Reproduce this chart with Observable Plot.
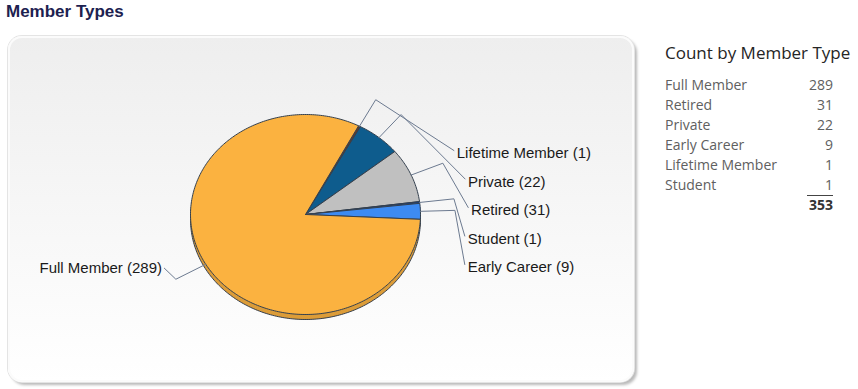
<!DOCTYPE html>
<html><head><meta charset="utf-8">
<script src="https://cdn.jsdelivr.net/npm/d3@7"></script>
<script src="https://cdn.jsdelivr.net/npm/@observablehq/plot@0.6"></script>
<style>
body{margin:0;width:858px;height:389px;position:relative;overflow:hidden;background:#fff;font-family:"Liberation Sans",Arial,sans-serif;}
#title{position:absolute;left:6px;top:1px;font-size:17px;font-weight:bold;color:#1d2150;line-height:22px;}
#panel{position:absolute;left:8px;top:36px;width:626px;height:346px;border-radius:14px;
  background:linear-gradient(#eeeeee,#ffffff);
  box-shadow:inset 0 0 0 2px #fbfbfb, 0 0 0 1px #e4e4e4, 3px 3px 3px rgba(0,0,0,0.28);}
#chart{position:absolute;left:0;top:0;}
#tbl{position:absolute;left:665px;top:43px;width:170px;font-family:"Open Sans",sans-serif;}
#tbl h3{margin:0 0 12px 0;font-size:17px;font-weight:normal;color:#252525;line-height:20px;white-space:nowrap;}
.row{display:flex;justify-content:space-between;width:168px;font-size:14px;line-height:20px;color:#606060;}
.tot{display:flex;justify-content:flex-end;width:168px;font-size:14px;line-height:18px;font-weight:bold;color:#333;}
.tot span{border-top:1px solid #444;padding-left:2px;}
</style></head>
<body>
<div id="title">Member Types</div>
<div id="panel"></div>
<div id="chart"></div>
<div id="tbl"></div>
<script>
// data (pie order, clockwise)
const categories = ["Lifetime Member","Private","Retired","Student","Early Career","Full Member"];
const counts = [1, 22, 31, 1, 9, 289];
const sliceColors = ["#6b3a22","#0e5c8d","#c0c0c0","#1d3f7c","#3d8bf2","#fbb240"];
const tableTitle = "Count by Member Type";

const startDeg = 27.5;
const a0 = startDeg * Math.PI / 180;
const arcs = d3.pie().sort(null).startAngle(a0).endAngle(a0 + 2 * Math.PI)(counts);
const P = (a, r = 1) => [r * Math.sin(a), -r * Math.cos(a)];
const depth = 0.05;

function wedgePts(dy) {
  const out = [];
  arcs.forEach((a, i) => {
    const n = Math.max(2, Math.ceil((a.endAngle - a.startAngle) / (Math.PI / 180)));
    out.push({cat: categories[i], x: 0, y: dy});
    for (let k = 0; k <= n; k++) {
      const t = a.startAngle + (a.endAngle - a.startAngle) * k / n;
      const [x, y] = P(t);
      out.push({cat: categories[i], x, y: y + dy});
    }
    out.push({cat: categories[i], x: 0, y: dy});
  });
  return out;
}
const topFace = wedgePts(0), sideFace = wedgePts(depth);

const mids = arcs.map((a, i) => ({cat: categories[i], count: counts[i], mid: (a.startAngle + a.endAngle) / 2}));
const rightLabels = mids.filter(d => d.mid < Math.PI), leftLabels = mids.filter(d => d.mid >= Math.PI);
rightLabels.forEach((d, i) => {
  d.ly = -0.61 + i * 0.285;
  d.lx = d.ly > 0 ? 1.41 : Math.min(1.44, Math.sqrt(1.45 ** 2 - d.ly ** 2));
  d.ex = d.lx - 0.025; d.ey = d.ly - 0.03;
});
leftLabels.forEach(d => {
  const [x, y] = P(d.mid, 1.3);
  d.ex = x - 0.1; d.ey = y - 0.11; d.lx = d.ex - 0.02; d.ly = d.ey;
});
const leaders = [];
[...rightLabels, ...leftLabels].forEach(d => {
  const [x1, y1] = P(d.mid, 1.0), [x2, y2] = P(d.mid, 1.3);
  leaders.push({cat: d.cat, x: x1, y: y1}, {cat: d.cat, x: x2, y: y2}, {cat: d.cat, x: d.ex, y: d.ey});
});

const cx = 305, cy = 214, rx = 115, ry = 100;
const labelStyle = {x: "lx", y: "ly", text: d => `${d.cat} (${d.count})`,
  fontSize: 15, fill: "#1a1a1a", fontFamily: "Liberation Sans, Arial, sans-serif"};
const chart = Plot.plot({
  width: 858, height: 389, margin: 0,
  style: {background: "transparent", overflow: "visible"},
  x: {domain: [-1, 1], range: [cx - rx, cx + rx], axis: null},
  y: {domain: [-1, 1], range: [cy - ry, cy + ry], axis: null},
  color: {domain: categories, range: sliceColors},
  marks: [
    Plot.line(sideFace, {x: "x", y: "y", z: "cat", fill: "cat", stroke: "#3a4452", strokeWidth: 1}),
    Plot.line(sideFace, {x: "x", y: "y", z: "cat", fill: "black", fillOpacity: 0.12, stroke: "none"}),
    Plot.line(topFace, {x: "x", y: "y", z: "cat", fill: "cat", stroke: "#34404e", strokeWidth: 1, strokeLinejoin: "round"}),
    Plot.line(leaders, {x: "x", y: "y", z: "cat", stroke: "#6c7a90", strokeWidth: 1}),
    Plot.text(rightLabels, {...labelStyle, textAnchor: "start"}),
    Plot.text(leftLabels, {...labelStyle, textAnchor: "end"})
  ]
});
document.getElementById("chart").appendChild(chart);

// table
const rows = d3.range(categories.length).map(i => ({cat: categories[i], n: counts[i]}))
  .sort((a, b) => d3.descending(a.n, b.n) || d3.ascending(a.cat, b.cat));
const tbl = document.getElementById("tbl");
tbl.innerHTML = `<h3>${tableTitle}</h3>` +
  rows.map(r => `<div class="row"><span>${r.cat}</span><span>${r.n}</span></div>`).join("") +
  `<div class="tot"><span>${d3.sum(counts)}</span></div>`;
</script>
</body></html>
